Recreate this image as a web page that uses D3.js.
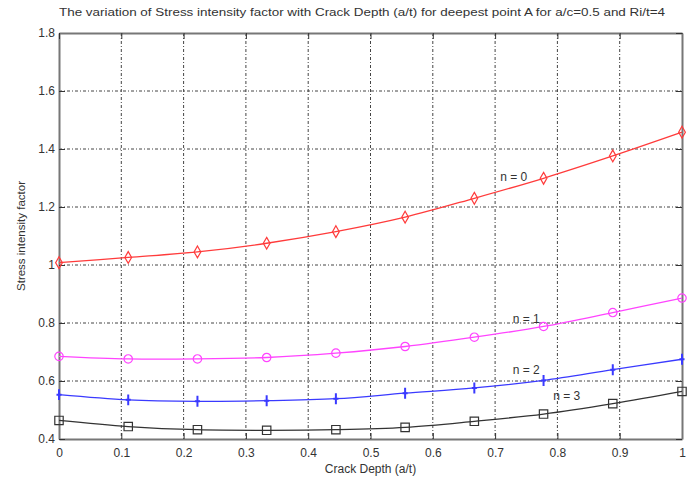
<!DOCTYPE html>
<html>
<head>
<meta charset="utf-8">
<script src="https://cdn.jsdelivr.net/npm/d3@7"></script>
<style>
  body { margin: 0; background: #fff; }
  svg { display: block; font-family: 'Liberation Sans', Arial, sans-serif; }
  .grid line { stroke: #444; stroke-dasharray: 3 2 1 2; stroke-width: 1; }
  .tick-label { font-size: 12px; fill: #333; }
</style>
</head>
<body>
<svg id="chart" width="696" height="477"></svg>
<script>
// crack depth a/t, 10 stations
const crackDepth = [0, 1 / 9, 2 / 9, 3 / 9, 4 / 9, 5 / 9, 6 / 9, 7 / 9, 8 / 9, 1];

const sifN0 = [1.008, 1.026, 1.045, 1.075, 1.115, 1.165, 1.230, 1.299, 1.376, 1.458];
const sifN1 = [0.685, 0.676, 0.676, 0.681, 0.696, 0.719, 0.751, 0.788, 0.836, 0.886];
const sifN2 = [0.553, 0.535, 0.530, 0.532, 0.539, 0.558, 0.576, 0.602, 0.639, 0.675];
const sifN3 = [0.464, 0.443, 0.432, 0.430, 0.432, 0.440, 0.461, 0.486, 0.522, 0.564];

const xTicks = [0, 0.1, 0.2, 0.3, 0.4, 0.5, 0.6, 0.7, 0.8, 0.9, 1];
const yTicks = [0.4, 0.6, 0.8, 1, 1.2, 1.4, 1.6, 1.8];

const seriesLabels = ['n = 0', 'n = 1', 'n = 2', 'n = 3'];

const series = [
  { name: seriesLabels[0], values: sifN0, color: '#ff3b3b', marker: 'diamond', label: [0.73, 1.29] },
  { name: seriesLabels[1], values: sifN1, color: '#ff44ff', marker: 'circle', label: [0.75, 0.80] },
  { name: seriesLabels[2], values: sifN2, color: '#3a3aff', marker: 'plus', label: [0.75, 0.625] },
  { name: seriesLabels[3], values: sifN3, color: '#333333', marker: 'square', label: [0.815, 0.535] }
];

const svg = d3.select('#chart');
const margin = { top: 33, right: 14, bottom: 38, left: 59 };
const width = 696;
const height = 477;

const x = d3.scaleLinear().domain([0, 1]).range([margin.left, width - margin.right]);
const y = d3.scaleLinear().domain([0.4, 1.8]).range([height - margin.bottom, margin.top]);

// grid (dash-dot, matlab style)
const grid = svg.append('g').attr('class', 'grid');
grid.selectAll('.vg').data(xTicks.slice(1, -1)).join('line')
  .attr('x1', (d) => x(d)).attr('x2', (d) => x(d))
  .attr('y1', y(1.8)).attr('y2', y(0.4));
grid.selectAll('.hg').data(yTicks.slice(1, -1)).join('line')
  .attr('class', 'hg')
  .attr('x1', x(0)).attr('x2', x(1))
  .attr('y1', (d) => y(d)).attr('y2', (d) => y(d));

// axes with inward ticks
const axisColor = '#777';
const bottomAxis = svg.append('g').attr('transform', `translate(0,${y(0.4)})`)
  .call(d3.axisBottom(x).tickValues(xTicks).tickSizeInner(-6).tickSizeOuter(0).tickPadding(9).tickFormat(d3.format('')));
const leftAxis = svg.append('g').attr('transform', `translate(${x(0)},0)`)
  .call(d3.axisLeft(y).tickValues(yTicks).tickSizeInner(-6).tickSizeOuter(0).tickPadding(4).tickFormat(d3.format('')));
const topAxis = svg.append('g').attr('transform', `translate(0,${y(1.8)})`)
  .call(d3.axisTop(x).tickValues(xTicks).tickSizeInner(-6).tickSizeOuter(0).tickFormat(''));
const rightAxis = svg.append('g').attr('transform', `translate(${x(1)},0)`)
  .call(d3.axisRight(y).tickValues(yTicks).tickSizeInner(-6).tickSizeOuter(0).tickFormat(''));

[bottomAxis, leftAxis, topAxis, rightAxis].forEach((g) => {
  g.select('.domain').attr('stroke', axisColor).attr('stroke-width', 2);
  g.selectAll('.tick line').attr('stroke', '#333');
  g.selectAll('.tick text').attr('class', 'tick-label').attr('font-family', null).attr('font-size', null);
});

// curves
const line = d3.line()
  .x((d, i) => x(crackDepth[i]))
  .y((d) => y(d))
  .curve(d3.curveCatmullRom);

const symbolFor = {
  diamond: (s) => `M0,${-s * 1.4}L${s * 0.8},0L0,${s * 1.4}L${-s * 0.8},0Z`,
  circle: (s) => `M${-s},0A${s},${s} 0 1,0 ${s},0A${s},${s} 0 1,0 ${-s},0`,
  plus: (s) => `M0,${-s * 1.3}V${s * 1.3}M${-s * 0.6},0H${s * 0.6}`,
  square: (s) => `M${-s},${-s}H${s}V${s}H${-s}Z`
};

series.forEach((s) => {
  svg.append('path')
    .datum(s.values)
    .attr('fill', 'none')
    .attr('stroke', s.color)
    .attr('stroke-width', 1.3)
    .attr('d', line);

  svg.append('g').selectAll('path')
    .data(s.values)
    .join('path')
    .attr('transform', (d, i) => `translate(${x(crackDepth[i])},${y(d)})`)
    .attr('d', symbolFor[s.marker](4.2))
    .attr('fill', 'none')
    .attr('stroke', s.color)
    .attr('stroke-width', s.marker === 'plus' ? 2 : 1.2);

  svg.append('text')
    .attr('x', x(s.label[0]))
    .attr('y', y(s.label[1]))
    .attr('font-size', 12)
    .attr('fill', '#333')
    .attr('text-anchor', 'middle')
    .text(s.name);
});

// titles
svg.append('text')
  .attr('x', 362).attr('y', 16)
  .attr('text-anchor', 'middle')
  .attr('font-size', 11.5)
  .attr('fill', '#333')
  .attr('textLength', 606)
  .attr('lengthAdjust', 'spacingAndGlyphs')
  .text('The variation of Stress intensity factor with Crack Depth (a/t) for deepest point A for a/c=0.5 and Ri/t=4');

svg.append('text')
  .attr('x', (x(0) + x(1)) / 2).attr('y', 473)
  .attr('text-anchor', 'middle')
  .attr('font-size', 12)
  .attr('fill', '#333')
  .text('Crack Depth (a/t)');

svg.append('text')
  .attr('transform', `translate(25,${(y(0.4) + y(1.8)) / 2}) rotate(-90)`)
  .attr('text-anchor', 'middle')
  .attr('font-size', 11.5)
  .attr('fill', '#333')
  .text('Stress intensity factor');
</script>
</body>
</html>
